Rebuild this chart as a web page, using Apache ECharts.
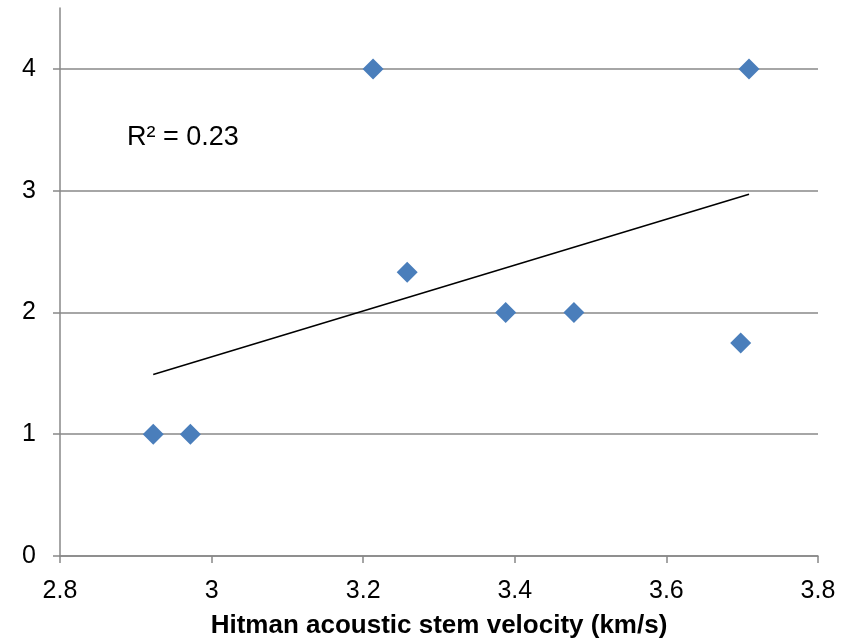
<!DOCTYPE html>
<html>
<head>
<meta charset="utf-8">
<script src="https://cdn.jsdelivr.net/npm/echarts@6/dist/echarts.min.js"></script>
<style>
  html, body { margin: 0; padding: 0; background: #fff; }
  #chart { width: 850px; height: 641px; }
</style>
</head>
<body>
<div id="chart"></div>
<script>
// stem velocity (km/s) vs score
const velocity = [2.923, 2.972, 3.213, 3.258, 3.388, 3.478, 3.698, 3.709]
const score = [1, 1, 4, 2.33, 2, 2, 1.75, 4]

// linear trendline end points
const trendX = [2.923, 3.709]
const trendY = [1.49, 2.97]

const xTicks = [2.8, 3, 3.2, 3.4, 3.6, 3.8]
const yTicks = [0, 1, 2, 3, 4]
const rSquaredText = 'R² = 0.23'
const xTitle = 'Hitman acoustic stem velocity (km/s)'

const font = 'Arial, "Liberation Sans", sans-serif'
const gray = '#888888'

const chart = echarts.init(document.getElementById('chart'))

chart.setOption({
  animation: false,
  backgroundColor: '#fff',
  grid: { left: 60, right: 32, top: 8, bottom: 85, containLabel: false, outerBoundsMode: 'none' },
  xAxis: {
    type: 'value',
    min: 2.8,
    max: 3.8,
    interval: 0.2,
    name: xTitle,
    nameLocation: 'middle',
    nameGap: 57,
    nameTextStyle: { color: '#000', fontFamily: font, fontSize: 26, fontWeight: 'bold' },
    axisLine: { show: true, lineStyle: { color: gray, width: 1.5 } },
    axisTick: { show: true, length: 7, inside: false, lineStyle: { color: gray, width: 1.5 } },
    axisLabel: {
      color: '#000', fontFamily: font, fontSize: 25, margin: 23,
      formatter: (v) => {
        const hit = xTicks.find((t) => Math.abs(t - v) < 1e-6)
        return hit === undefined ? '' : String(hit)
      }
    },
    splitLine: { show: false }
  },
  yAxis: {
    type: 'value',
    min: 0,
    max: 4.5,
    interval: 1,
    axisLine: { show: true, lineStyle: { color: gray, width: 1.5 } },
    axisTick: { show: true, length: 7, lineStyle: { color: gray, width: 1.5 } },
    axisLabel: {
      color: '#000', fontFamily: font, fontSize: 25, margin: 24,
      showMaxLabel: false,
      formatter: (v) => (yTicks.includes(v) ? String(v) : '')
    },
    splitLine: { show: true, showMaxLine: false, lineStyle: { color: gray, width: 1.5 } }
  },
  series: [
    {
      type: 'scatter',
      symbol: 'diamond',
      symbolSize: [21, 21],
      itemStyle: { color: '#4a7ebb', opacity: 1 },
      data: velocity.map((x, i) => [x, score[i]]),
      z: 3
    },
    {
      type: 'line',
      symbol: 'none',
      lineStyle: { color: '#000', width: 1.5 },
      data: trendX.map((x, i) => [x, trendY[i]]),
      z: 2
    }
  ],
  graphic: [
    {
      type: 'text',
      left: 127,
      top: 124,
      style: { text: rSquaredText, fill: '#000', font: '27px ' + font }
    }
  ]
})
</script>
</body>
</html>
